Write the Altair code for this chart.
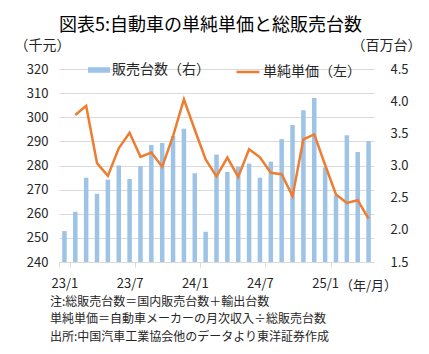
import altair as alt
import pandas as pd

MONTHS = ["23/1", "23/2", "23/3", "23/4", "23/5", "23/6", "23/7", "23/8", "23/9", "23/10",
          "23/11", "23/12", "24/1", "24/2", "24/3", "24/4", "24/5", "24/6", "24/7", "24/8",
          "24/9", "24/10", "24/11", "24/12", "25/1", "25/2", "25/3", "25/4", "25/5"]
UNITS = [1.98, 2.28, 2.81, 2.56, 2.78, 3.00, 2.79, 2.99, 3.32, 3.35,
         3.46, 3.57, 2.88, 1.97, 3.17, 2.90, 2.98, 3.03, 2.81, 3.06,
         3.41, 3.63, 3.86, 4.05, 2.97, 2.54, 3.47, 3.21, 3.38]
PRICE = [None, 300.9, 304.7, 281.0, 275.7, 287.1, 293.6, 283.6, 285.4, 279.5,
         292.2, 307.4, 294.8, 282.5, 275.5, 283.3, 275.3, 286.7, 283.4, 277.0,
         276.4, 267.3, 290.8, 292.9, 280.2, 268.0, 264.5, 265.6, 258.0]

TITLE = "図表5:自動車の単純単価と総販売台数"
BAR_LABEL = "販売台数（右）"
LINE_LABEL = "単純単価（左）"
LEFT_TITLE = "（千元）"
RIGHT_TITLE = "（百万台）"
X_TITLE = "（年/月）"
X_LABELS = ["23/1", "23/7", "24/1", "24/7", "25/1"]
LEFT_TICKS = [240, 250, 260, 270, 280, 290, 300, 310, 320]
RIGHT_TICKS = [1.5, 2.0, 2.5, 3.0, 3.5, 4.0, 4.5]
NOTES = ["注:総販売台数＝国内販売台数＋輸出台数",
         "単純単価＝自動車メーカーの月次収入÷総販売台数",
         "出所:中国汽車工業協会他のデータより東洋証券作成"]

FONT = "Noto Sans CJK JP"
TXT = "#262626"
GRID = "#D9D9D9"
BLUE = "#9DC3E6"
ORANGE = "#ED7D31"

df = pd.DataFrame({"month": MONTHS, "units": UNITS, "price": PRICE})

x_enc = alt.X(
    "month:O", sort=MONTHS,
    scale=alt.Scale(paddingInner=0, paddingOuter=0),
    axis=alt.Axis(values=X_LABELS, tickBand="extent", labelAngle=0,
                  labelFont=FONT, labelFontSize=13, labelColor=TXT, labelPadding=10,
                  domainColor=GRID, tickColor=GRID, tickSize=5, grid=False,
                  title=X_TITLE, titleAngle=0, titleX=309, titleY=23,
                  titleAlign="center", titleBaseline="middle",
                  titleFont=FONT, titleFontSize=13, titleFontWeight="normal",
                  titleColor=TXT),
)

bars = alt.Chart(df).transform_calculate(s=f"'{BAR_LABEL}'").mark_bar(size=4.5).encode(
    x=x_enc,
    y=alt.Y("units:Q", scale=alt.Scale(domain=[1.5, 4.5], nice=False, zero=False),
            axis=alt.Axis(orient="right", values=RIGHT_TICKS, format=".1f", grid=False,
                          ticks=False, tickSize=0, domain=False, labelPadding=16,
                          labelFont=FONT, labelFontSize=13, labelColor=TXT,
                          title=RIGHT_TITLE, titleAngle=0, titleX=12, titleY=-24,
                          titleAlign="center", titleBaseline="middle",
                          titleFont=FONT, titleFontSize=14, titleFontWeight="normal",
                          titleColor=TXT)),
    y2=alt.datum(1.5),
    color=alt.Color("s:N", scale=alt.Scale(domain=[BAR_LABEL], range=[BLUE]),
                    legend=alt.Legend(title=None, orient="none", legendX=29, legendY=-10,
                                      direction="horizontal", padding=0,
                                      symbolType="M-1,-0.25H1V0.25H-1Z", symbolSize=484,
                                      symbolStrokeWidth=0, labelOffset=2,
                                      labelFont=FONT, labelFontSize=14, labelColor=TXT)),
)

line = alt.Chart(df).transform_calculate(s=f"'{LINE_LABEL}'").mark_line(strokeWidth=2.5).encode(
    x=x_enc,
    y=alt.Y("price:Q", scale=alt.Scale(domain=[240, 320], nice=False, zero=False),
            axis=alt.Axis(orient="left", values=LEFT_TICKS, grid=True, gridColor=GRID,
                          ticks=False, tickSize=0, domain=False, labelPadding=11,
                          labelFont=FONT, labelFontSize=13, labelColor=TXT,
                          title=LEFT_TITLE, titleAngle=0, titleX=-17, titleY=-24,
                          titleAlign="center", titleBaseline="middle",
                          titleFont=FONT, titleFontSize=14, titleFontWeight="normal",
                          titleColor=TXT)),
    color=alt.Color("s:N", scale=alt.Scale(domain=[LINE_LABEL], range=[ORANGE]),
                    legend=alt.Legend(title=None, orient="none", legendX=176, legendY=-10,
                                      direction="horizontal", padding=0,
                                      symbolType="stroke", symbolSize=529,
                                      symbolStrokeWidth=2.5, labelOffset=2,
                                      labelFont=FONT, labelFontSize=14, labelColor=TXT)),
)

note_df = pd.DataFrame({"k": [0]})
notes = [
    alt.Chart(note_df).mark_text(text=t, align="left", baseline="middle", font=FONT,
                                 fontSize=12, color=TXT).encode(
        x=alt.value(-9), y=alt.value(232.7 + i * 17.6))
    for i, t in enumerate(NOTES)
]

chart = alt.layer(bars, line, *notes).resolve_scale(
    y="independent", color="independent"
).properties(
    width=315, height=193,
    autosize=alt.AutoSizeParams(type="none"),
    padding={"left": 59, "top": 69, "right": 55, "bottom": 92},
    title=alt.TitleParams(TITLE, anchor="middle", frame="group", offset=3, dx=-6,
                          font=FONT, fontSize=18, fontWeight="normal", color="#000000"),
).configure_view(stroke="transparent")

chart.save("out.html", embed_options={"renderer": "svg", "actions": False})
